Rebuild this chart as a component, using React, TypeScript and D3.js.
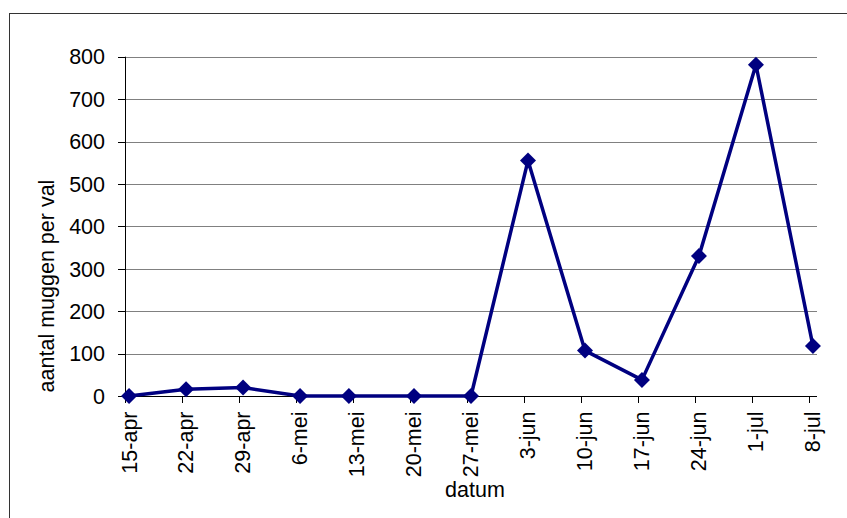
import React from "react";
import * as d3 from "d3";

const tickLabels = ["15-apr","22-apr","29-apr","6-mei","13-mei","20-mei","27-mei","3-jun","10-jun","17-jun","24-jun","1-jul","8-jul"];
// sample day offsets from 15-apr
const sampleDays = [0, 7, 14, 21, 27, 35, 42, 49, 56, 63, 70, 77, 84];
const counts = [0, 16, 20, 0, 0, 0, 0, 555, 107, 38, 330, 781, 118];
const yTicks = [0, 100, 200, 300, 400, 500, 600, 700, 800];

export default function App() {
  const W = 847, H = 518;
  const left = 125, right = 817, top = 56.7, bottom = 396;
  const x = d3.scaleLinear().domain([0, 85]).range([left, right]);
  const y = d3.scaleLinear().domain([0, 800]).range([bottom, top]);
  const font = "'Liberation Sans', Arial, sans-serif";
  const fs = 21.5;
  const pts = sampleDays.map((d, i) => [x(d + 0.5), y(counts[i])] as [number, number]);
  const line = d3.line()(pts) || "";
  const s = 8;
  return (
    <svg width={W} height={H} style={{ position: "absolute", left: 0, top: 0, background: "#fff" }} fontFamily={font}>
      <rect x={9.5} y={13.5} width={900} height={600} fill="#fff" stroke="#333" strokeWidth={1} />
      {yTicks.filter(t => t > 0).map(t => (
        <line key={t} x1={left} x2={right} y1={Math.round(y(t)) + 0.5} y2={Math.round(y(t)) + 0.5} stroke="#808080" strokeWidth={1} />
      ))}
      <line x1={left + 0.5} x2={left + 0.5} y1={top} y2={bottom} stroke="#000" />
      <line x1={left} x2={right} y1={bottom + 0.5} y2={bottom + 0.5} stroke="#000" />
      {yTicks.map(t => (
        <g key={t}>
          <line x1={118} x2={left} y1={Math.round(y(t)) + 0.5} y2={Math.round(y(t)) + 0.5} stroke="#000" />
          <text x={105} y={y(t)} dy="0.36em" textAnchor="end" fontSize={fs} fill="#000">{t}</text>
        </g>
      ))}
      {tickLabels.map((lab, i) => {
        const tx = Math.round(x(i * 7)) + 0.5;
        return (
          <g key={lab}>
            <line x1={tx} x2={tx} y1={bottom} y2={bottom + 7} stroke="#000" />
            <text transform={`translate(${x(i * 7) + 11.5},${411.5}) rotate(-90)`} textAnchor="end" fontSize={fs} fill="#000">{lab}</text>
          </g>
        );
      })}
      <path d={line} fill="none" stroke="#000080" strokeWidth={3.5} strokeLinejoin="round" />
      {pts.map(([px, py], i) => (
        <path key={i} d={`M${px},${py - s}L${px + s},${py}L${px},${py + s}L${px - s},${py}Z`} fill="#000080" />
      ))}
      <text transform={`translate(54,286) rotate(-90)`} textAnchor="middle" fontSize={fs} fill="#000">aantal muggen per val</text>
      <text x={475} y={497} textAnchor="middle" fontSize={fs} fill="#000">datum</text>
    </svg>
  );
}
